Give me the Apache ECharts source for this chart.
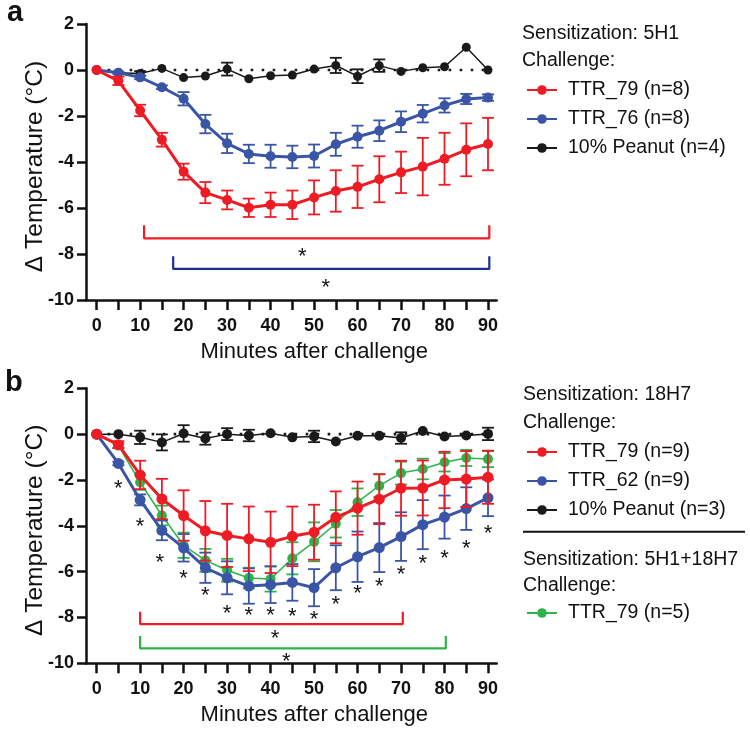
<!DOCTYPE html>
<html>
<head>
<meta charset="utf-8">
<script src="https://cdn.jsdelivr.net/npm/echarts@6/dist/echarts.min.js"></script>
<style>html,body{margin:0;padding:0;background:#fff}#c{width:750px;height:733px}</style>
</head>
<body>
<div id="c"></div>
<script>
// ---------- data ----------
const minutes = [0,5,10,15,20,25,30,35,40,45,50,55,60,65,70,75,80,85,90];
const xTicks = [0,5,10,15,20,25,30,35,40,45,50,55,60,65,70,75,80,85,90];
const xLabels = [0,10,20,30,40,50,60,70,80,90];

// Panel a (Sensitization: 5H1)
const aTTR79 = [0,-0.47,-1.76,-3.03,-4.42,-5.33,-5.65,-5.99,-5.86,-5.86,-5.54,-5.26,-5.08,-4.75,-4.45,-4.2,-3.86,-3.47,-3.22];
const aTTR79Err = [0,0.18,0.25,0.3,0.35,0.46,0.41,0.4,0.53,0.62,0.74,0.9,0.92,1.0,0.9,1.25,1.13,1.15,1.14];
const aTTR76 = [0,-0.12,-0.32,-0.75,-1.25,-2.35,-3.19,-3.65,-3.75,-3.78,-3.74,-3.23,-2.9,-2.64,-2.25,-1.9,-1.54,-1.26,-1.2];
const aTTR76Err = [0,0.05,0.08,0.08,0.29,0.4,0.42,0.4,0.5,0.49,0.5,0.5,0.48,0.45,0.45,0.38,0.31,0.22,0.14];
const aPeanut = [0,-0.12,-0.15,0.07,-0.33,-0.26,0.04,-0.38,-0.25,-0.22,0.04,0.2,-0.27,0.19,-0.06,0.1,0.14,0.99,0.0];
const aPeanutErr = [0,0,0.1,0,0,0,0.28,0,0,0,0,0.33,0.3,0.27,0,0,0,0,0];
const aRedBracket = [[10.9,-6.75],[10.9,-7.32],[90.3,-7.32],[90.3,-6.75]];
const aBlueBracket = [[17.6,-8.1],[17.6,-8.65],[90.3,-8.65],[90.3,-8.1]];
const aStars = [[47.3,-7.9],[52.7,-9.27]];

// Panel b (Sensitization: 18H7 and 5H1+18H7)
const bTTR79 = [0,-0.46,-1.78,-2.83,-3.55,-4.22,-4.42,-4.57,-4.72,-4.46,-4.28,-3.63,-3.23,-2.84,-2.36,-2.35,-2.0,-1.96,-1.88];
const bTTR79Err = [0,0.15,0.62,0.88,1.1,1.3,1.38,1.41,1.34,1.3,1.2,1.13,1.16,1.09,1.2,1.2,1.23,1.22,1.16];
const bTTR62 = [0,-1.28,-2.87,-4.2,-4.96,-5.83,-6.27,-6.63,-6.57,-6.47,-6.7,-5.83,-5.35,-4.95,-4.47,-3.95,-3.62,-3.25,-2.78];
const bTTR62Err = [0,0.08,0.24,0.43,0.6,0.66,0.72,0.77,0.8,0.8,0.81,0.98,1.1,1.07,1.06,1.07,0.94,0.93,0.8];
const bPeanut = [0,0,-0.14,-0.36,0.03,-0.19,0.0,-0.06,0.04,-0.14,-0.1,-0.32,-0.07,-0.07,-0.17,0.14,-0.1,-0.06,0.01];
const bPeanutErr = [0,0,0.29,0.35,0.36,0.27,0.26,0.25,0,0,0.25,0,0,0,0.25,0,0,0,0.27];
const bCombo79 = [0,-0.5,-2.1,-3.55,-4.85,-5.51,-5.94,-6.28,-6.32,-5.42,-4.7,-3.91,-2.97,-2.25,-1.7,-1.52,-1.23,-1.04,-1.09];
const bCombo79Err = [0,0.1,0.33,0.43,0.55,0.5,0.5,0.45,0.55,0.7,0.85,0.6,0.6,0.5,0.5,0.45,0.4,0.35,0.35];
const bStarX = [5,10,14.5,20,25,30,35,40,45,50,55,60,65,70,75,80,85,90];
const bStarY = [-2.17,-3.81,-5.42,-6.09,-6.84,-7.61,-7.73,-7.73,-7.74,-7.87,-7.22,-6.75,-6.47,-5.91,-5.43,-5.22,-4.81,-4.14];
const bRedBracket = [[10,-7.75],[10,-8.29],[70.4,-8.29],[70.4,-7.75]];
const bGreenBracket = [[10,-8.81],[10,-9.35],[80.3,-9.35],[80.3,-8.81]];
const bStars = [[41,-8.73],[43.6,-9.71]];

// ---------- styling ----------
const FONT = 'Liberation Sans, Arial, Helvetica, sans-serif';
const RED = '#ED1C24', BLUE = '#3A55A5', NAVY = '#1E2F8F', GREEN = '#2DB34A', BLACK = '#1A1A1A';

function lineSeries(name, vals, color, width, size, gi, z) {
  return {
    name, type: 'line', xAxisIndex: gi, yAxisIndex: gi, z,
    data: minutes.map((m, i) => [m, vals[i]]),
    symbol: 'circle', symbolSize: size, showSymbol: true,
    itemStyle: { color }, lineStyle: { color, width },
    emphasis: { disabled: true }, animation: false
  };
}
function errSeries(vals, errs, color, gi, z, cap) {
  const data = [];
  minutes.forEach((m, i) => { if (errs[i] > 0) data.push([m, vals[i] - errs[i], vals[i] + errs[i]]); });
  return {
    type: 'custom', xAxisIndex: gi, yAxisIndex: gi, z, silent: true, animation: false,
    encode: { x: 0, y: [1, 2] }, data,
    renderItem: function (params, api) {
      const lo = api.coord([api.value(0), api.value(1)]);
      const hi = api.coord([api.value(0), api.value(2)]);
      const st = { stroke: color, lineWidth: 1.8 };
      return { type: 'group', children: [
        { type: 'line', shape: { x1: lo[0], y1: lo[1], x2: hi[0], y2: hi[1] }, style: st },
        { type: 'line', shape: { x1: lo[0] - cap, y1: lo[1], x2: lo[0] + cap, y2: lo[1] }, style: st },
        { type: 'line', shape: { x1: hi[0] - cap, y1: hi[1], x2: hi[0] + cap, y2: hi[1] }, style: st }
      ]};
    }
  };
}
function bracketSeries(pts, color, gi) {
  return { type: 'line', xAxisIndex: gi, yAxisIndex: gi, data: pts, symbol: 'none', silent: true,
    lineStyle: { color, width: 2.2 }, z: 1, animation: false };
}
function starSeries(pts, gi) {
  return {
    type: 'custom', xAxisIndex: gi, yAxisIndex: gi, data: pts, silent: true, z: 6, animation: false,
    encode: { x: 0, y: 1 },
    renderItem: function (params, api) {
      const p = api.coord([api.value(0), api.value(1)]);
      return { type: 'text', x: p[0], y: p[1] + 5,
        style: { text: '*', fontSize: 22, fontFamily: FONT, fill: '#111', align: 'center', verticalAlign: 'middle' } };
    }
  };
}
function zeroSeries(gi) {
  return { type: 'line', xAxisIndex: gi, yAxisIndex: gi, data: [[0, 0], [90, 0]], symbol: 'none', silent: true,
    lineStyle: { color: BLACK, width: 2.6, type: [2.6, 8.4] }, z: 0, animation: false };
}

function xAxisCfg(gi) {
  return {
    type: 'value', gridIndex: gi, min: -2.45, max: 92,
    axisLine: { onZero: false, lineStyle: { color: '#111', width: 2.5 } },
    axisTick: { show: true, length: 10, inside: false, customValues: xTicks, lineStyle: { color: '#111', width: 2.5 } },
    axisLabel: { customValues: xLabels, margin: 17, fontSize: 18, fontWeight: 'bold', color: '#111', fontFamily: FONT },
    splitLine: { show: false },
    name: 'Minutes after challenge', nameLocation: 'middle', nameGap: 41, nameMoveOverlap: false,
    nameTextStyle: { fontSize: 22, color: '#111', fontFamily: FONT, padding: [0, 0, 0, 46] }
  };
}
function yAxisCfg(gi) {
  return {
    type: 'value', gridIndex: gi, min: -10, max: 2, interval: 2,
    axisLine: { show: true, onZero: false, lineStyle: { color: '#111', width: 2.5 } },
    axisTick: { show: true, length: 9, lineStyle: { color: '#111', width: 2.5 } },
    axisLabel: { margin: 12, fontSize: 18, fontWeight: 'bold', color: '#111', fontFamily: FONT },
    splitLine: { show: false },
    name: 'Δ Temperature (°C)', nameLocation: 'middle', nameGap: 38, nameRotate: 90, nameMoveOverlap: false,
    nameTextStyle: { fontSize: 24.5, color: '#111', fontFamily: FONT, padding: [0, 9, 0, 0] }
  };
}
const legendText = { fontSize: 19.5, fontFamily: FONT, color: '#111', padding: [0, 0, 0, 6] };
function legendCfg(names, top) {
  return { data: names, orient: 'vertical', left: 521, top, itemWidth: 30, itemHeight: 12, itemGap: 9,
    textStyle: legendText, selectedMode: false };
}
function txt(text, x, y, size, bold) {
  return { type: 'text', x, y, style: { text, fontSize: size, fontWeight: bold ? 'bold' : 'normal',
    fontFamily: FONT, fill: '#111', align: 'left', verticalAlign: 'middle' } };
}

const option = {
  animation: false,
  backgroundColor: '#fff',
  grid: [
    { left: 86, top: 24, width: 410.7, height: 276 },
    { left: 86, top: 388.3, width: 410.7, height: 275 }
  ],
  xAxis: [xAxisCfg(0), xAxisCfg(1)],
  yAxis: [yAxisCfg(0), yAxisCfg(1)],
  legend: [
    legendCfg(['TTR_79 (n=8)', 'TTR_76 (n=8)', '10% Peanut (n=4)'], 75),
    legendCfg(['TTR_79 (n=9)', 'TTR_62 (n=9)', '10% Peanut (n=3)'], 437),
    legendCfg(['TTR_79 (n=5)'], 598)
  ],
  graphic: [
    txt('a', 7, 13, 29, true),
    txt('b', 5, 383, 29, true),
    txt('Sensitization: 5H1', 522, 34, 19.5),
    txt('Challenge:', 522, 61, 19.5),
    txt('Sensitization: 18H7', 523, 395, 19.5),
    txt('Challenge:', 523, 423, 19.5),
    { type: 'line', shape: { x1: 523, y1: 531.7, x2: 745, y2: 531.7 }, style: { stroke: '#111', lineWidth: 2 } },
    txt('Sensitization: 5H1+18H7', 523, 560, 19.5),
    txt('Challenge:', 523, 586, 19.5)
  ],
  series: [
    zeroSeries(0), zeroSeries(1),
    bracketSeries(aRedBracket, RED, 0), bracketSeries(aBlueBracket, NAVY, 0),
    starSeries(aStars, 0),
    bracketSeries(bRedBracket, RED, 1), bracketSeries(bGreenBracket, GREEN, 1),
    starSeries(bStars, 1),
    starSeries(bStarX.map((x, i) => [x, bStarY[i]]), 1),
    // panel a
    errSeries(aPeanut, aPeanutErr, BLACK, 0, 2, 6),
    lineSeries('10% Peanut (n=4)', aPeanut, BLACK, 1.5, 9, 0, 2),
    errSeries(aTTR76, aTTR76Err, BLUE, 0, 3, 6),
    lineSeries('TTR_76 (n=8)', aTTR76, BLUE, 3, 10, 0, 3),
    errSeries(aTTR79, aTTR79Err, RED, 0, 4, 6),
    lineSeries('TTR_79 (n=8)', aTTR79, RED, 3, 10, 0, 4),
    // panel b
    errSeries(bPeanut, bPeanutErr, BLACK, 1, 2, 6),
    lineSeries('10% Peanut (n=3)', bPeanut, BLACK, 1.5, 10, 1, 2),
    errSeries(bCombo79, bCombo79Err, GREEN, 1, 3, 6),
    lineSeries('TTR_79 (n=5)', bCombo79, GREEN, 1.5, 10, 1, 3),
    errSeries(bTTR62, bTTR62Err, BLUE, 1, 4, 6),
    lineSeries('TTR_62 (n=9)', bTTR62, BLUE, 3, 11, 1, 4),
    errSeries(bTTR79, bTTR79Err, RED, 1, 5, 6),
    lineSeries('TTR_79 (n=9)', bTTR79, RED, 3, 11, 1, 5)
  ]
};
const chart = echarts.init(document.getElementById('c'), null, { renderer: 'canvas' });
chart.setOption(option);
</script>
</body>
</html>
